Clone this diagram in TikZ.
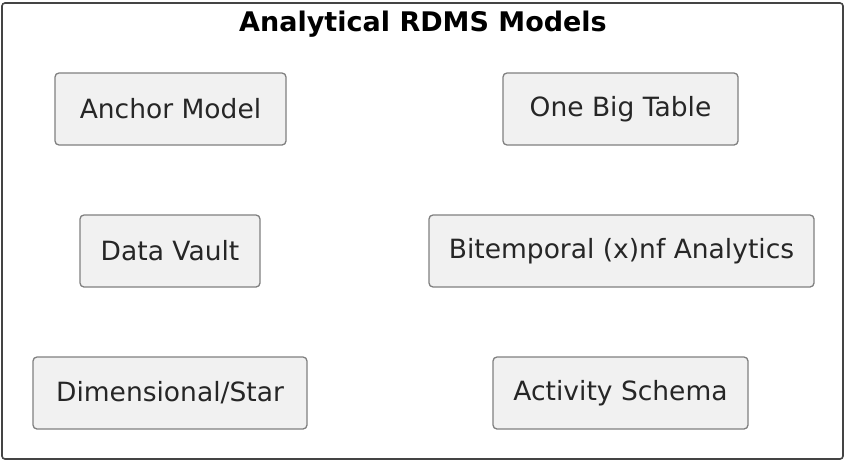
\documentclass[tikz,border=0pt]{standalone}
\usepackage{fontspec}
\setmainfont{DejaVu Sans}
\definecolor{boxfill}{HTML}{F1F1F1}
\definecolor{boxline}{HTML}{808080}
\definecolor{frameline}{HTML}{444444}
\definecolor{txt}{HTML}{262626}
\tikzset{
  px/.style={x=1pt,y=-1pt},
  model/.style={draw=boxline, line width=1.3pt, fill=boxfill, rounded corners=4pt,
    minimum height=72pt, inner sep=0pt, font=\fontsize{26.5}{32}\selectfont, text=txt},
  frame/.style={draw=frameline, line width=1.6pt, rounded corners=3pt},
  title/.style={font=\fontsize{27}{32}\selectfont\bfseries, text=black}
}
\begin{document}
\begin{tikzpicture}[px]
\useasboundingbox (0,0) rectangle (846,461);
\fill[white] (0,0) rectangle (846,461);
\draw[frame] (2,3) rectangle (843,459);
\node[title] (title) at (423,24) {Analytical RDMS Models};
\node[model, minimum width=231pt] (anchor) at (170.5,109) {Anchor Model};
\node[model, minimum width=235pt] (obt) at (620.5,109) {One Big Table};
\node[model, minimum width=180pt] (vault) at (170,251) {Data Vault};
\node[model, minimum width=385pt] (bitemp) at (621.5,251) {Bitemporal (x)nf Analytics};
\node[model, minimum width=274pt] (dim) at (170,393) {Dimensional/Star};
\node[model, minimum width=255pt] (activity) at (620.5,393) {Activity Schema};
\end{tikzpicture}
\end{document}
